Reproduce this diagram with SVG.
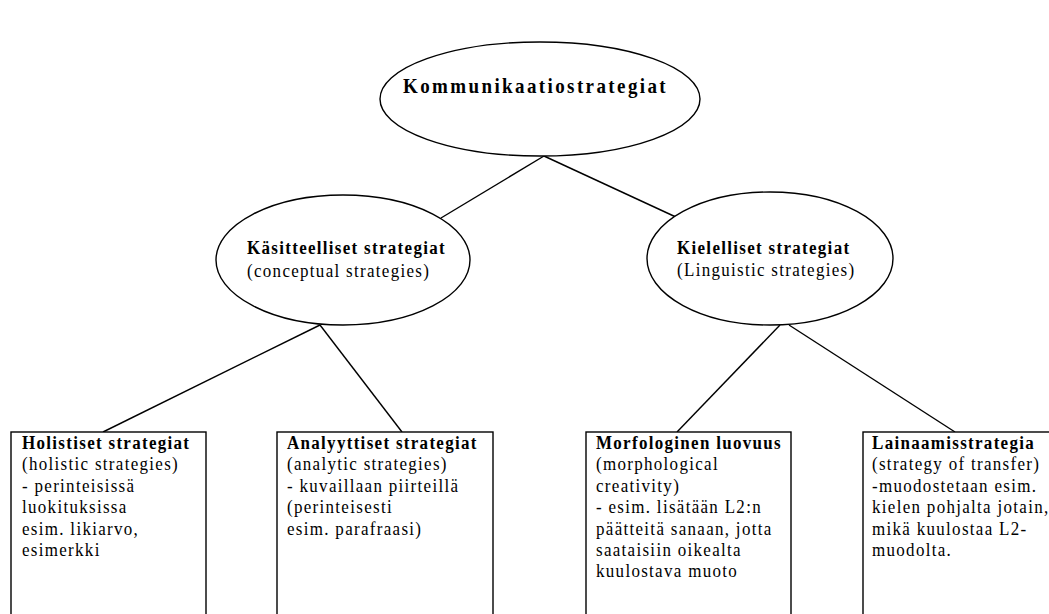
<svg xmlns="http://www.w3.org/2000/svg" width="1049" height="614" viewBox="0 0 1049 614">
<style>
.shape{fill:#fff;stroke:#000;stroke-width:1.4}
.conn line{stroke:#000;stroke-width:1.4}
text{font-family:"Liberation Serif","Times New Roman",serif;font-size:17px;fill:#000;letter-spacing:1.3px}
.b{font-weight:bold}
.title{font-size:19px;font-weight:bold;letter-spacing:2.4px}
</style>
<rect width="1049" height="614" fill="#fff"/>
<g id="connectors" class="conn">
<line x1="544" y1="156" x2="441" y2="218"/>
<line x1="544" y1="156" x2="678" y2="218"/>
<line x1="320" y1="325" x2="103" y2="432"/>
<line x1="320" y1="325" x2="402" y2="432"/>
<line x1="780" y1="325" x2="677" y2="432"/>
<line x1="789" y1="325" x2="955" y2="432"/>
</g>
<g id="kommunikaatiostrategiat">
<ellipse class="shape" cx="540" cy="99" rx="160" ry="57"/>
<text class="title" transform="translate(403,93) scale(1,1.12)">Kommunikaatiostrategiat</text>
</g>
<g id="kasitteelliset">
<ellipse class="shape" cx="343" cy="260" rx="127" ry="65"/>
<text transform="translate(247,254) scale(1,1.12)"><tspan class="b" x="0" y="0">Käsitteelliset strategiat</tspan><tspan x="0" y="20.4">(conceptual strategies)</tspan></text>
</g>
<g id="kielelliset">
<ellipse class="shape" cx="770" cy="258.5" rx="123" ry="66.5"/>
<text transform="translate(677,253.5) scale(1,1.12)"><tspan class="b" x="0" y="0">Kielelliset strategiat</tspan><tspan x="0" y="20.4">(Linguistic strategies)</tspan></text>
</g>
<g id="holistiset">
<rect class="shape" x="11" y="432" width="195" height="190"/>
<text transform="translate(22,449) scale(1,1.12)"><tspan class="b" x="0" y="0">Holistiset strategiat</tspan><tspan x="0" y="19.1">(holistic strategies)</tspan><tspan x="0" y="38.2">- perinteisissä</tspan><tspan x="0" y="57.3">luokituksissa</tspan><tspan x="0" y="76.4">esim. likiarvo,</tspan><tspan x="0" y="95.5">esimerkki</tspan></text>
</g>
<g id="analyyttiset">
<rect class="shape" x="277" y="432" width="216" height="190"/>
<text transform="translate(287,449) scale(1,1.12)"><tspan class="b" x="0" y="0">Analyyttiset strategiat</tspan><tspan x="0" y="19.1">(analytic strategies)</tspan><tspan x="0" y="38.2">- kuvaillaan piirteillä</tspan><tspan x="0" y="57.3">(perinteisesti</tspan><tspan x="0" y="76.4">esim. parafraasi)</tspan></text>
</g>
<g id="morfologinen">
<rect class="shape" x="586" y="432" width="205" height="190"/>
<text transform="translate(596,449) scale(1,1.12)"><tspan class="b" x="0" y="0">Morfologinen luovuus</tspan><tspan x="0" y="19.1">(morphological</tspan><tspan x="0" y="38.2">creativity)</tspan><tspan x="0" y="57.3">- esim. lisätään L2:n</tspan><tspan x="0" y="76.4">päätteitä sanaan, jotta</tspan><tspan x="0" y="95.5">saataisiin oikealta</tspan><tspan x="0" y="114.6">kuulostava muoto</tspan></text>
</g>
<g id="lainaamisstrategia">
<rect class="shape" x="863" y="432" width="200" height="190"/>
<text transform="translate(872,449) scale(1,1.12)"><tspan class="b" x="0" y="0">Lainaamisstrategia</tspan><tspan x="0" y="19.1">(strategy of transfer)</tspan><tspan x="0" y="38.2">-muodostetaan esim.</tspan><tspan x="0" y="57.3">kielen pohjalta jotain,</tspan><tspan x="0" y="76.4">mikä kuulostaa L2-</tspan><tspan x="0" y="95.5">muodolta.</tspan></text>
</g>
</svg>
